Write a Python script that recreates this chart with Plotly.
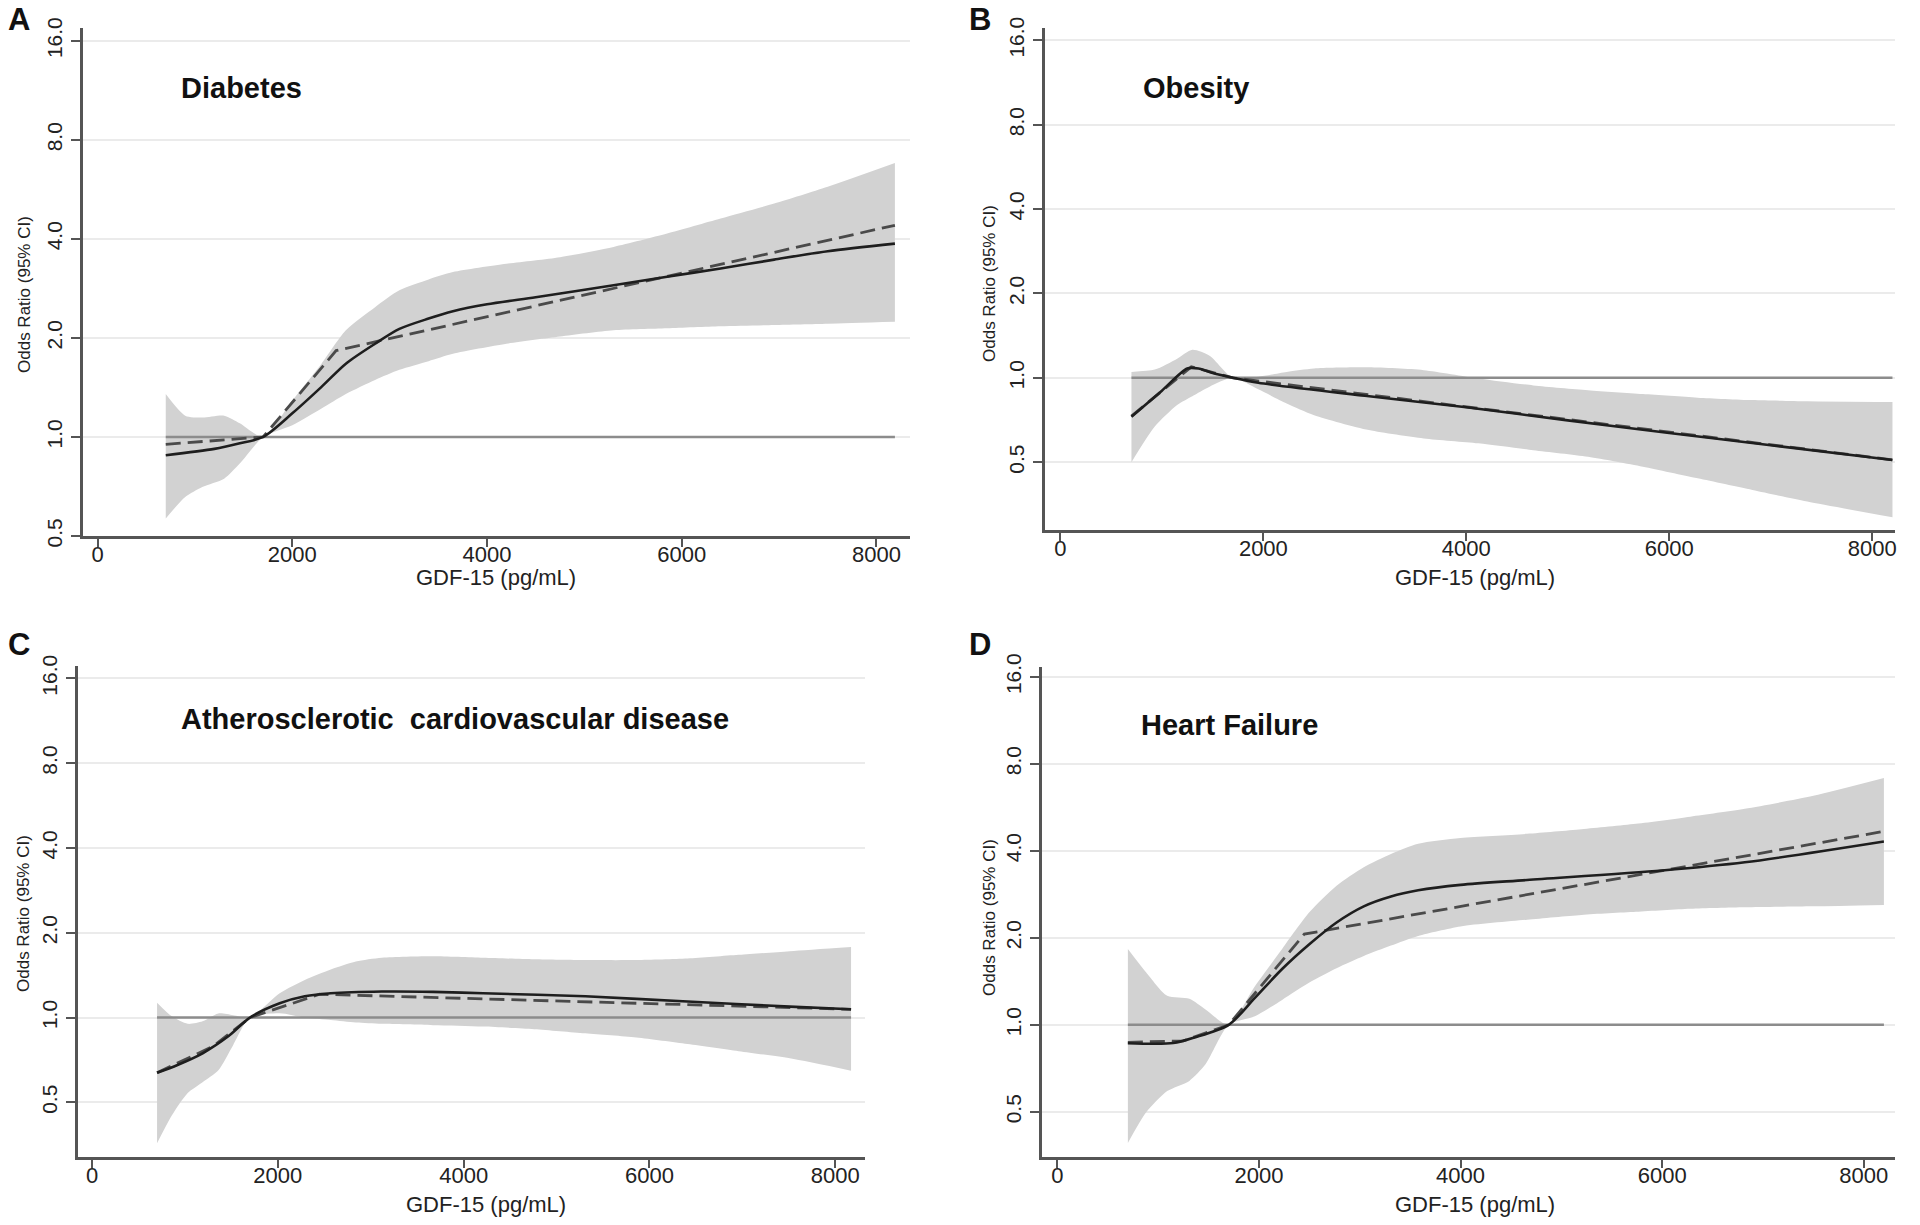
import math
import plotly.graph_objects as go

W, H = 1920, 1225
FONT = "Liberation Sans, Arial, Helvetica, sans-serif"

# ---------------- data ----------------
x_ticks = [0, 2000, 4000, 6000, 8000]
y_ticks = [0.5, 1, 2, 4, 8, 16]
y_tick_labels = ["0.5", "1.0", "2.0", "4.0", "8.0", "16.0"]
panel_letters = ["A", "B", "C", "D"]
panel_titles = ["Diabetes", "Obesity", "Atherosclerotic  cardiovascular disease", "Heart Failure"]
x_title = "GDF-15 (pg/mL)"
y_title = "Odds Ratio (95% CI)"

# Panel A - Diabetes
A_sol_x = [700, 1200, 1450, 1700, 2000, 2300, 2550, 2850, 3100, 3400, 3650, 4000, 4500, 5300, 5850, 6400, 6950, 7500, 8190]
A_sol_y = [0.88, 0.92, 0.955, 1.0, 1.18, 1.42, 1.67, 1.92, 2.13, 2.29, 2.41, 2.53, 2.66, 2.89, 3.07, 3.25, 3.46, 3.67, 3.87]
A_dash_x = [700, 1700, 2450, 8190]
A_dash_y = [0.95, 1.0, 1.83, 4.40]
A_ci_x = [700, 900, 1075, 1300, 1460, 1700, 2000, 2300, 2550, 2850, 3100, 3400, 3650, 4200, 4750, 5300, 5850, 6400, 6950, 7500, 8190]
A_ci_hi = [1.35, 1.16, 1.145, 1.16, 1.10, 1.0, 1.29, 1.67, 2.11, 2.48, 2.79, 3.01, 3.17, 3.36, 3.52, 3.78, 4.15, 4.61, 5.12, 5.76, 6.8]
A_ci_lo = [0.565, 0.657, 0.705, 0.747, 0.83, 1.0, 1.085, 1.22, 1.35, 1.49, 1.60, 1.70, 1.79, 1.92, 2.02, 2.11, 2.14, 2.17, 2.19, 2.21, 2.24]
A_ref_x = [700, 8190]

# Panel B - Obesity
B_sol_x = [700, 1000, 1250, 1360, 1500, 1700, 1950, 3000, 4000, 5000, 6000, 7000, 8200]
B_sol_y = [0.727, 0.90, 1.08, 1.08, 1.04, 1.0, 0.96, 0.863, 0.785, 0.705, 0.636, 0.575, 0.509]
B_dash_x = [700, 1290, 1700, 8200]
B_dash_y = [0.73, 1.095, 1.0, 0.51]
B_ci_x = [700, 930, 1150, 1300, 1470, 1700, 1950, 2230, 2500, 3040, 3580, 4120, 4660, 5200, 5740, 6280, 6820, 7360, 8200]
B_ci_hi = [1.05, 1.07, 1.17, 1.26, 1.20, 1.0, 1.01, 1.05, 1.08, 1.09, 1.065, 0.995, 0.94, 0.904, 0.875, 0.85, 0.833, 0.825, 0.82]
B_ci_lo = [0.50, 0.67, 0.80, 0.86, 0.93, 1.0, 0.91, 0.81, 0.736, 0.651, 0.608, 0.584, 0.552, 0.523, 0.482, 0.438, 0.398, 0.362, 0.318]
B_ref_x = [700, 8200]

# Panel C - Atherosclerotic cardiovascular disease
C_sol_x = [700, 920, 1190, 1470, 1700, 2020, 2290, 2570, 3120, 3670, 4210, 5310, 6410, 7510, 8170]
C_sol_y = [0.637, 0.679, 0.747, 0.86, 1.0, 1.124, 1.19, 1.22, 1.237, 1.234, 1.22, 1.19, 1.14, 1.094, 1.07]
C_dash_x = [700, 1300, 1700, 2450, 8170]
C_dash_y = [0.637, 0.79, 1.0, 1.21, 1.07]
C_ci_x = [700, 860, 1030, 1190, 1360, 1520, 1700, 2020, 2290, 2570, 2840, 3120, 3670, 4210, 4760, 5310, 5860, 6410, 6960, 7510, 8170]
C_ci_hi = [1.13, 1.01, 0.95, 0.97, 1.035, 1.02, 1.0, 1.22, 1.36, 1.48, 1.58, 1.63, 1.65, 1.63, 1.61, 1.60, 1.60, 1.62, 1.67, 1.72, 1.78]
C_ci_lo = [0.358, 0.45, 0.54, 0.59, 0.65, 0.80, 1.0, 1.036, 1.0, 0.98, 0.96, 0.95, 0.94, 0.93, 0.91, 0.88, 0.85, 0.806, 0.76, 0.717, 0.648]
C_ref_x = [700, 8170]

# Panel D - Heart Failure
D_sol_x = [700, 1150, 1360, 1700, 1960, 2230, 2500, 2770, 3040, 3310, 3580, 4000, 4660, 6000, 6820, 8200]
D_sol_y = [0.864, 0.865, 0.904, 1.0, 1.24, 1.56, 1.90, 2.26, 2.57, 2.78, 2.92, 3.05, 3.17, 3.42, 3.65, 4.31]
D_dash_x = [700, 1250, 1700, 2450, 8200]
D_dash_y = [0.87, 0.88, 1.0, 2.06, 4.67]
D_ci_x = [700, 880, 1090, 1310, 1470, 1700, 1960, 2230, 2500, 2770, 3040, 3310, 3580, 4000, 4660, 5200, 5740, 6280, 6820, 7500, 8200]
D_ci_hi = [1.83, 1.52, 1.26, 1.23, 1.13, 1.0, 1.36, 1.83, 2.45, 3.03, 3.51, 3.90, 4.23, 4.43, 4.58, 4.75, 4.96, 5.25, 5.59, 6.2, 7.14]
D_ci_lo = [0.39, 0.497, 0.59, 0.64, 0.73, 1.0, 1.07, 1.22, 1.40, 1.57, 1.73, 1.88, 2.03, 2.19, 2.31, 2.40, 2.46, 2.52, 2.55, 2.57, 2.60]
D_ref_x = [700, 8200]

panels = [
    dict(sol_x=A_sol_x, sol_y=A_sol_y, dash_x=A_dash_x, dash_y=A_dash_y,
         ci_x=A_ci_x, hi=A_ci_hi, lo=A_ci_lo, ref_x=A_ref_x),
    dict(sol_x=B_sol_x, sol_y=B_sol_y, dash_x=B_dash_x, dash_y=B_dash_y,
         ci_x=B_ci_x, hi=B_ci_hi, lo=B_ci_lo, ref_x=B_ref_x),
    dict(sol_x=C_sol_x, sol_y=C_sol_y, dash_x=C_dash_x, dash_y=C_dash_y,
         ci_x=C_ci_x, hi=C_ci_hi, lo=C_ci_lo, ref_x=C_ref_x),
    dict(sol_x=D_sol_x, sol_y=D_sol_y, dash_x=D_dash_x, dash_y=D_dash_y,
         ci_x=D_ci_x, hi=D_ci_hi, lo=D_ci_lo, ref_x=D_ref_x),
]

# ---------------- layout geometry (pixels) ----------------
geom = [
    dict(l=83, r=910, t=28, b=536, xr=[-150, 8345], yr=[0.5, 17.5]),
    dict(l=1045, r=1895, t=28, b=530, xr=[-152, 8225], yr=[0.2866, 17.7]),
    dict(l=78, r=865, t=666, b=1157, xr=[-151, 8320], yr=[0.32, 17.7]),
    dict(l=1042, r=1895, t=667, b=1157, xr=[-152, 8310], yr=[0.349, 17.3]),
]
letter_pos = [(19, 20), (980, 20), (19, 644), (980, 644)]
title_pos = [(179, 88), (1141, 88), (179, 719), (1139, 725)]
xtitle_pos = [(496, 577), (1475, 577), (486, 1204), (1475, 1204)]
ytitle_pos = [(24, 295), (989, 284), (24, 914), (989, 918)]

GRID = "#ebebeb"
AXIS = "#555555"
BAND = "#d2d2d2"

fig = go.Figure()
layout = dict(
    width=W, height=H, autosize=False,
    margin=dict(l=0, r=0, t=0, b=0, pad=0),
    paper_bgcolor="white", plot_bgcolor="white",
    showlegend=False,
    font=dict(family=FONT, color="#222222"),
    annotations=[],
)

for i, (p, g) in enumerate(zip(panels, geom)):
    n = "" if i == 0 else str(i + 1)
    xa, ya = "x" + n, "y" + n
    fig.add_trace(go.Scatter(x=p["ci_x"], y=p["hi"], mode="lines", xaxis=xa, yaxis=ya,
                             line=dict(width=0, color=BAND, shape="spline", smoothing=0.7),
                             hoverinfo="skip"))
    fig.add_trace(go.Scatter(x=p["ci_x"], y=p["lo"], mode="lines", xaxis=xa, yaxis=ya,
                             line=dict(width=0, color=BAND, shape="spline", smoothing=0.7),
                             fill="tonexty", fillcolor=BAND, hoverinfo="skip"))
    fig.add_trace(go.Scatter(x=p["ref_x"], y=[1.0] * len(p["ref_x"]), mode="lines", xaxis=xa, yaxis=ya,
                             line=dict(width=2.5, color="#8c8c8c"), hoverinfo="skip"))
    fig.add_trace(go.Scatter(x=p["dash_x"], y=p["dash_y"], mode="lines", xaxis=xa, yaxis=ya,
                             line=dict(width=2.8, color="#4a4a4a", dash="15px,7px")))
    fig.add_trace(go.Scatter(x=p["sol_x"], y=p["sol_y"], mode="lines", xaxis=xa, yaxis=ya,
                             line=dict(width=2.6, color="#1e1e1e", shape="spline", smoothing=0.8)))

    xdom = [g["l"] / W, g["r"] / W]
    ydom = [1 - g["b"] / H, 1 - g["t"] / H]
    layout["xaxis" + n] = dict(
        domain=xdom, range=g["xr"], anchor=ya, automargin=False,
        tickvals=x_ticks, ticktext=[str(v) for v in x_ticks],
        ticks="outside", ticklen=8, tickwidth=2, tickcolor=AXIS,
        showline=True, linecolor=AXIS, linewidth=2.5,
        showgrid=False, zeroline=False,
        tickfont=dict(size=22, color="#222222", family=FONT),
        ticklabelstandoff=-11,
    )
    layout["yaxis" + n] = dict(
        domain=ydom, type="log", automargin=False,
        range=[math.log10(g["yr"][0]), math.log10(g["yr"][1])], anchor=xa,
        tickvals=y_ticks, ticktext=y_tick_labels, tickangle=-90,
        ticks="outside", ticklen=9, tickwidth=2, tickcolor=AXIS,
        showline=True, linecolor=AXIS, linewidth=2.5,
        showgrid=True, gridcolor=GRID, gridwidth=2, zeroline=False,
        tickfont=dict(size=21, color="#222222", family=FONT),
        ticklabelstandoff=1,
    )

    lx, ly = letter_pos[i]
    layout["annotations"].append(dict(
        text="<b>%s</b>" % panel_letters[i], x=lx / W, y=1 - ly / H, xref="paper", yref="paper",
        xanchor="center", yanchor="middle", showarrow=False,
        font=dict(size=31, color="#111111", family=FONT)))
    tx, ty = title_pos[i]
    layout["annotations"].append(dict(
        text="<b>%s</b>" % panel_titles[i], x=tx / W, y=1 - ty / H, xref="paper", yref="paper",
        xanchor="left", yanchor="middle", showarrow=False,
        font=dict(size=29, color="#111111", family=FONT)))
    xx, xy = xtitle_pos[i]
    layout["annotations"].append(dict(
        text=x_title, x=xx / W, y=1 - xy / H, xref="paper", yref="paper",
        xanchor="center", yanchor="middle", showarrow=False,
        font=dict(size=22, color="#222222", family=FONT)))
    yx, yy = ytitle_pos[i]
    layout["annotations"].append(dict(
        text=y_title, x=yx / W, y=1 - yy / H, xref="paper", yref="paper",
        xanchor="center", yanchor="middle", textangle=-90, showarrow=False,
        font=dict(size=17, color="#222222", family=FONT)))

fig.update_layout(**layout)
fig.write_html(
    "out.html",
    config={"displayModeBar": False},
    post_script="document.body.style.margin='0';document.body.style.padding='0';"
                "document.documentElement.style.overflow='hidden';",
)
